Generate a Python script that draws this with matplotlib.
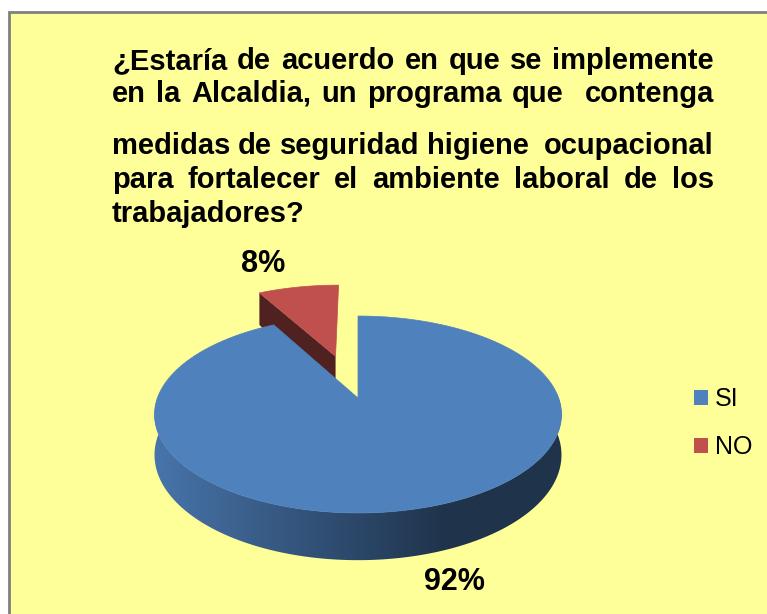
import numpy as np
import matplotlib.pyplot as plt
from matplotlib.patches import Polygon, Rectangle, Patch
from matplotlib.colors import to_rgb

plt.rcParams['font.family'] = ['Liberation Sans', 'DejaVu Sans']

# datos del grafico
labels = ['SI', 'NO']
values = [92, 8]
pct_text = ['92%', '8%']
top_colors = ['#4F81BD', '#C0504D']
explode = [0.0, 0.485]

title_lines = [
    '¿Estaría de acuerdo en que se implemente',
    'en la Alcaldia, un programa que  contenga',
    'medidas de seguridad higiene  ocupacional',
    'para fortalecer el ambiente laboral de los',
    'trabajadores?',
]

W, H = 767, 614
fig = plt.figure(figsize=(W / 100, H / 100), dpi=100)
fig.patch.set_facecolor('white')
ax = fig.add_axes([0, 0, 1, 1])
ax.set_xlim(0, W)
ax.set_ylim(H, 0)
ax.axis('off')

# fondo amarillo del area del grafico
ax.add_patch(Rectangle((9, 12), W, H, facecolor='#FFFF99',
                       edgecolor='#808080', lw=2, zorder=0))

# titulo justificado
r = fig.canvas.get_renderer()
x_left, x_right = 112, 714
baselines = [69, 102, 154, 188, 222]
for i, (line, yb) in enumerate(zip(title_lines, baselines)):
    if i == len(title_lines) - 1:
        ax.text(x_left, yb, line, fontsize=21, fontweight='bold',
                ha='left', va='baseline')
        continue
    words = line.split(' ')
    txts, widths = [], []
    for w in words:
        t = ax.text(0, yb, w, fontsize=21, fontweight='bold',
                    ha='left', va='baseline')
        txts.append(t)
        widths.append(t.get_window_extent(renderer=r).width if w else 0.0)
    gap = (x_right - x_left - sum(widths)) / (len(words) - 1)
    x = x_left
    for t, wd in zip(txts, widths):
        t.set_x(x)
        x += wd + gap

# pastel 3D (proyeccion con algo de perspectiva)
cx, cy = 358, 398
a, b, k, depth = 200.6, 95.7, 0.1675, 39.3


def proj(u, v, h=0.0):
    s = 1.0 / (1.0 + k * v)
    return cx + a * u * s, cy + (-b * v + depth * h) * s


def shade(color, f):
    return np.clip(np.array(to_rgb(color)) * f, 0, 1)


fracs = np.array(values) / np.sum(values)
cum = np.concatenate([[0], np.cumsum(fracs)])
slices = []
for i in range(len(values)):
    hi = 90 - cum[i] * 360
    lo = 90 - cum[i + 1] * 360
    mid = np.radians((lo + hi) / 2)
    ox, oy = explode[i] * np.cos(mid), explode[i] * np.sin(mid)
    slices.append((i, np.radians(lo), np.radians(hi), mid, ox, oy))

# de atras hacia adelante
slices.sort(key=lambda s: -np.sin(s[3]))

gx = np.linspace(140, 580, 441)
for i, lo, hi, mid, ox, oy in slices:
    col = top_colors[i]
    th = np.linspace(lo, hi, 400)

    # cara lateral exterior con degradado horizontal
    thf = th[np.sin(th) < 0.05]
    if len(thf) > 1:
        uf, vf = ox + np.cos(thf), oy + np.sin(thf)
        tx, ty = proj(uf, vf)
        bx, by = proj(uf, vf, 1)
        side = np.column_stack([np.concatenate([tx, bx[::-1]]),
                                np.concatenate([ty, by[::-1]])])
        side_patch = Polygon(side, closed=True, facecolor='none',
                             edgecolor='none', zorder=2)
        ax.add_patch(side_patch)
        tt = np.clip((gx - 156) / (445 - 156), 0, 1)
        grad = np.array([shade(col, 0.9 - 0.5 * t) for t in tt])[None, :, :]
        im = ax.imshow(grad, extent=(gx[0], gx[-1], 600, 300), aspect='auto',
                       interpolation='bilinear', zorder=2)
        im.set_clip_path(side_patch)

    # caras radiales visibles
    for phi, sign in ((hi, 1), (lo, -1)):
        if sign * np.cos(phi) < -1e-6:
            ex, ey = ox + np.cos(phi), oy + np.sin(phi)
            pts = [proj(ox, oy), proj(ex, ey), proj(ex, ey, 1), proj(ox, oy, 1)]
            ax.add_patch(Polygon(pts, closed=True, facecolor=shade(col, 0.41),
                                 edgecolor='none', zorder=2))

    # cara superior
    u, v = ox + np.cos(th), oy + np.sin(th)
    px, py = proj(u, v)
    ax0, ay0 = proj(ox, oy)
    top = np.column_stack([np.concatenate([[ax0], px]),
                           np.concatenate([[ay0], py])])
    ax.add_patch(Polygon(top, closed=True, facecolor=col,
                         edgecolor=col, lw=0.5, zorder=2))

ax.set_xlim(0, W)
ax.set_ylim(H, 0)

# etiquetas de porcentaje
nudge = {0: (37, 26), 1: (-35, -23)}
for i, lo, hi, mid, ox, oy in slices:
    h = 1 if np.sin(mid) < 0 else 0
    lx, ly = proj(ox + np.cos(mid), oy + np.sin(mid), h)
    dx, dy = nudge[i]
    ax.text(lx + dx, ly + dy, pct_text[i], fontsize=22, fontweight='bold',
            ha='center', va='center', zorder=3)

# leyenda
handles = [Patch(facecolor=c, edgecolor='none') for c in top_colors]
ax.legend(handles, labels, loc='center left',
          bbox_to_anchor=(694 / W, 1 - 423 / H), bbox_transform=fig.transFigure,
          frameon=False, fontsize=18, handlelength=0.55, handleheight=0.55,
          handletextpad=0.3, labelspacing=0.95, borderpad=0, borderaxespad=0)

fig.savefig('out.png', dpi=100, facecolor='white')
